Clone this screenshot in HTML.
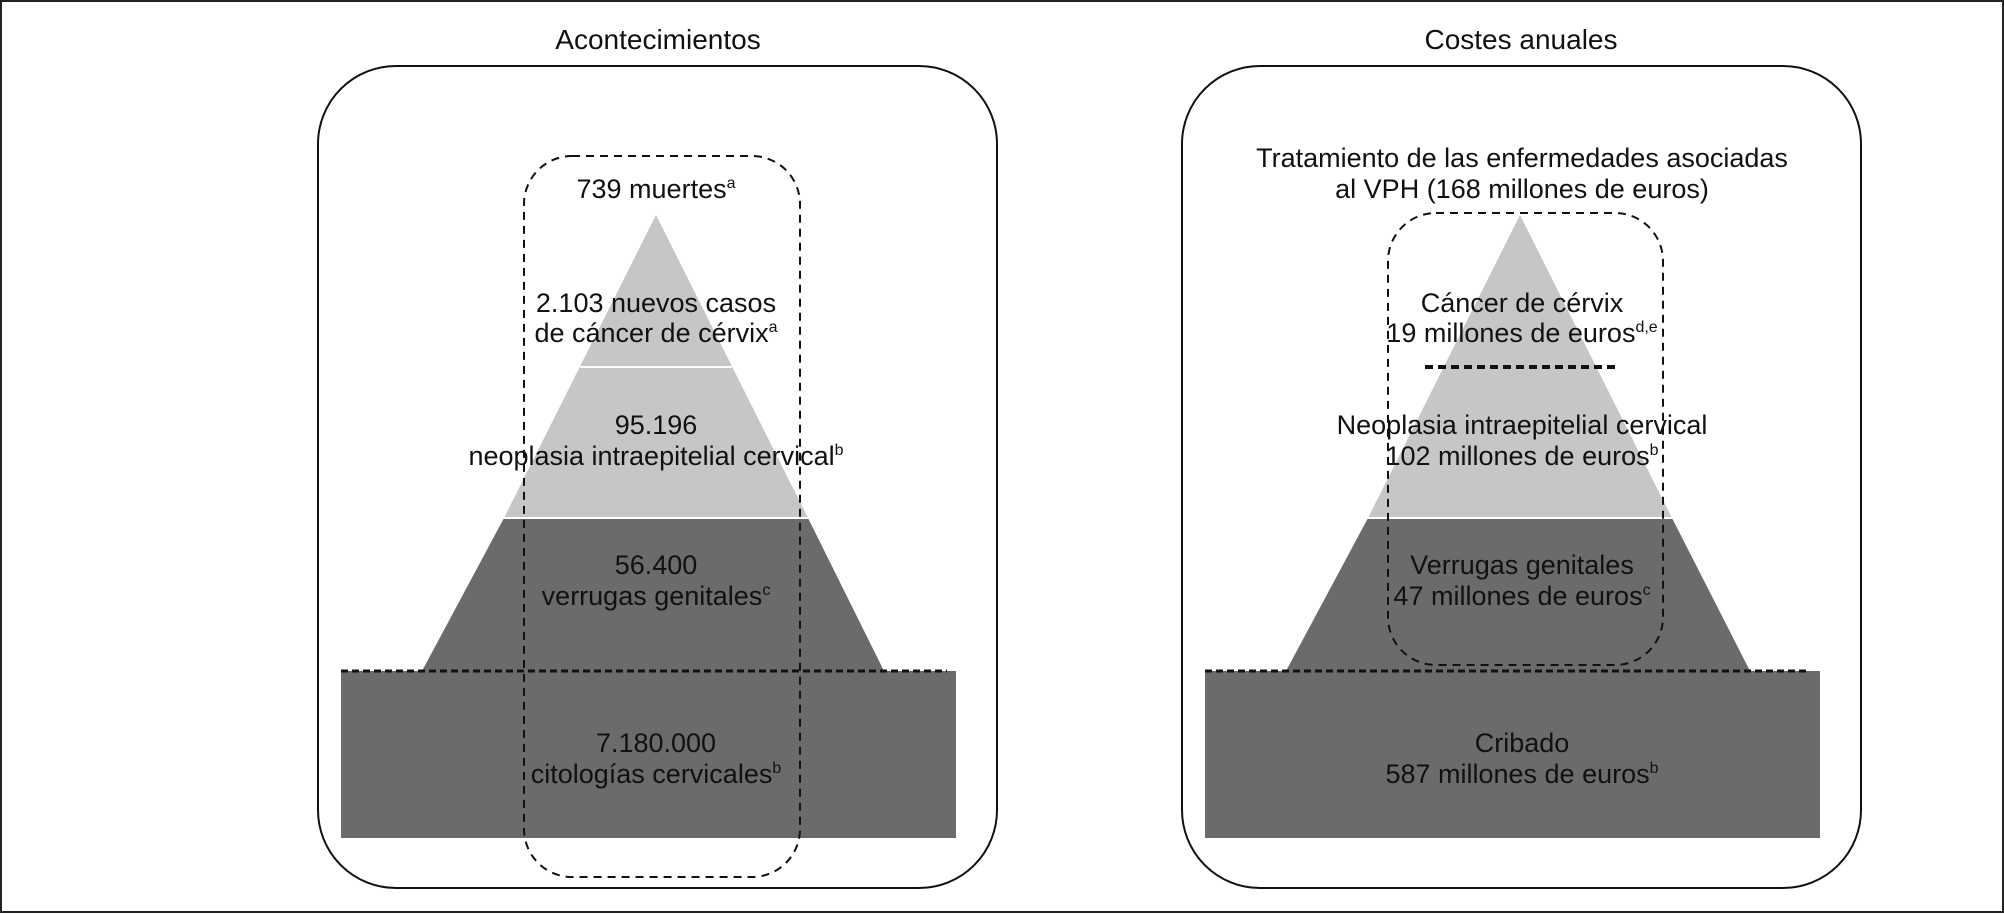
<!DOCTYPE html>
<html><head><meta charset="utf-8"><style>
html,body{margin:0;padding:0;background:#fff}
svg{display:block}
text{font-family:"Liberation Sans",Arial,sans-serif;font-size:27px;fill:#111;text-anchor:middle}
tspan.s{font-size:16px}
</style></head><body>
<svg width="2004" height="914" viewBox="0 0 2004 914" xmlns="http://www.w3.org/2000/svg">
<rect x="1" y="1" width="2002" height="911" fill="#fff" stroke="#222" stroke-width="2"/>

<!-- LEFT -->
<text x="658" y="49" style="font-size:28px">Acontecimientos</text>
<rect x="318" y="66" width="679" height="822" rx="78" ry="78" fill="none" stroke="#111" stroke-width="2"/>
<polygon points="656,215 808,518 504,518" fill="#c6c6c6"/>
<line x1="580" y1="367" x2="732" y2="367" stroke="#fff" stroke-width="2"/>
<polygon points="504,518 808,518 884,671 422,671" fill="#6b6b6b"/>
<line x1="500" y1="518" x2="812" y2="518" stroke="#fff" stroke-width="2"/>
<rect x="341" y="671" width="615" height="167" fill="#6b6b6b"/>
<line x1="341" y1="671" x2="947" y2="671" stroke="#111" stroke-width="3" stroke-dasharray="7,4"/>
<rect x="524" y="156" width="276" height="721" rx="48" ry="48" fill="none" stroke="#111" stroke-width="2" stroke-dasharray="8,6"/>
<text x="656" y="198">739 muertes<tspan class="s" dy="-10">a</tspan></text>
<text x="656" y="312">2.103 nuevos casos</text>
<text x="656" y="342">de cáncer de cérvix<tspan class="s" dy="-10">a</tspan></text>
<text x="656" y="434">95.196</text>
<text x="656" y="465">neoplasia intraepitelial cervical<tspan class="s" dy="-10">b</tspan></text>
<text x="656" y="574">56.400</text>
<text x="656" y="605">verrugas genitales<tspan class="s" dy="-10">c</tspan></text>
<text x="656" y="752">7.180.000</text>
<text x="656" y="783">citologías cervicales<tspan class="s" dy="-10">b</tspan></text>

<!-- RIGHT -->
<text x="1521" y="49" style="font-size:28px">Costes anuales</text>
<rect x="1182" y="66" width="679" height="822" rx="78" ry="78" fill="none" stroke="#111" stroke-width="2"/>
<polygon points="1520,215 1672,518 1368,518" fill="#c6c6c6"/>
<polygon points="1368,518 1672,518 1750,671 1286,671" fill="#6b6b6b"/>
<line x1="1364" y1="518" x2="1676" y2="518" stroke="#fff" stroke-width="2"/>
<rect x="1205" y="671" width="615" height="167" fill="#6b6b6b"/>
<line x1="1205" y1="671" x2="1806" y2="671" stroke="#111" stroke-width="3" stroke-dasharray="7,4"/>
<line x1="1425" y1="367" x2="1617" y2="367" stroke="#111" stroke-width="4" stroke-dasharray="8,5"/>
<rect x="1388" y="213" width="275" height="452" rx="48" ry="48" fill="none" stroke="#111" stroke-width="2" stroke-dasharray="8,6"/>
<text x="1522" y="167">Tratamiento de las enfermedades asociadas</text>
<text x="1522" y="198">al VPH (168 millones de euros)</text>
<text x="1522" y="312">Cáncer de cérvix</text>
<text x="1522" y="342">19 millones de euros<tspan class="s" dy="-10">d,e</tspan></text>
<text x="1522" y="434">Neoplasia intraepitelial cervical</text>
<text x="1522" y="465">102 millones de euros<tspan class="s" dy="-10">b</tspan></text>
<text x="1522" y="574">Verrugas genitales</text>
<text x="1522" y="605">47 millones de euros<tspan class="s" dy="-10">c</tspan></text>
<text x="1522" y="752">Cribado</text>
<text x="1522" y="783">587 millones de euros<tspan class="s" dy="-10">b</tspan></text>
</svg>
</body></html>
